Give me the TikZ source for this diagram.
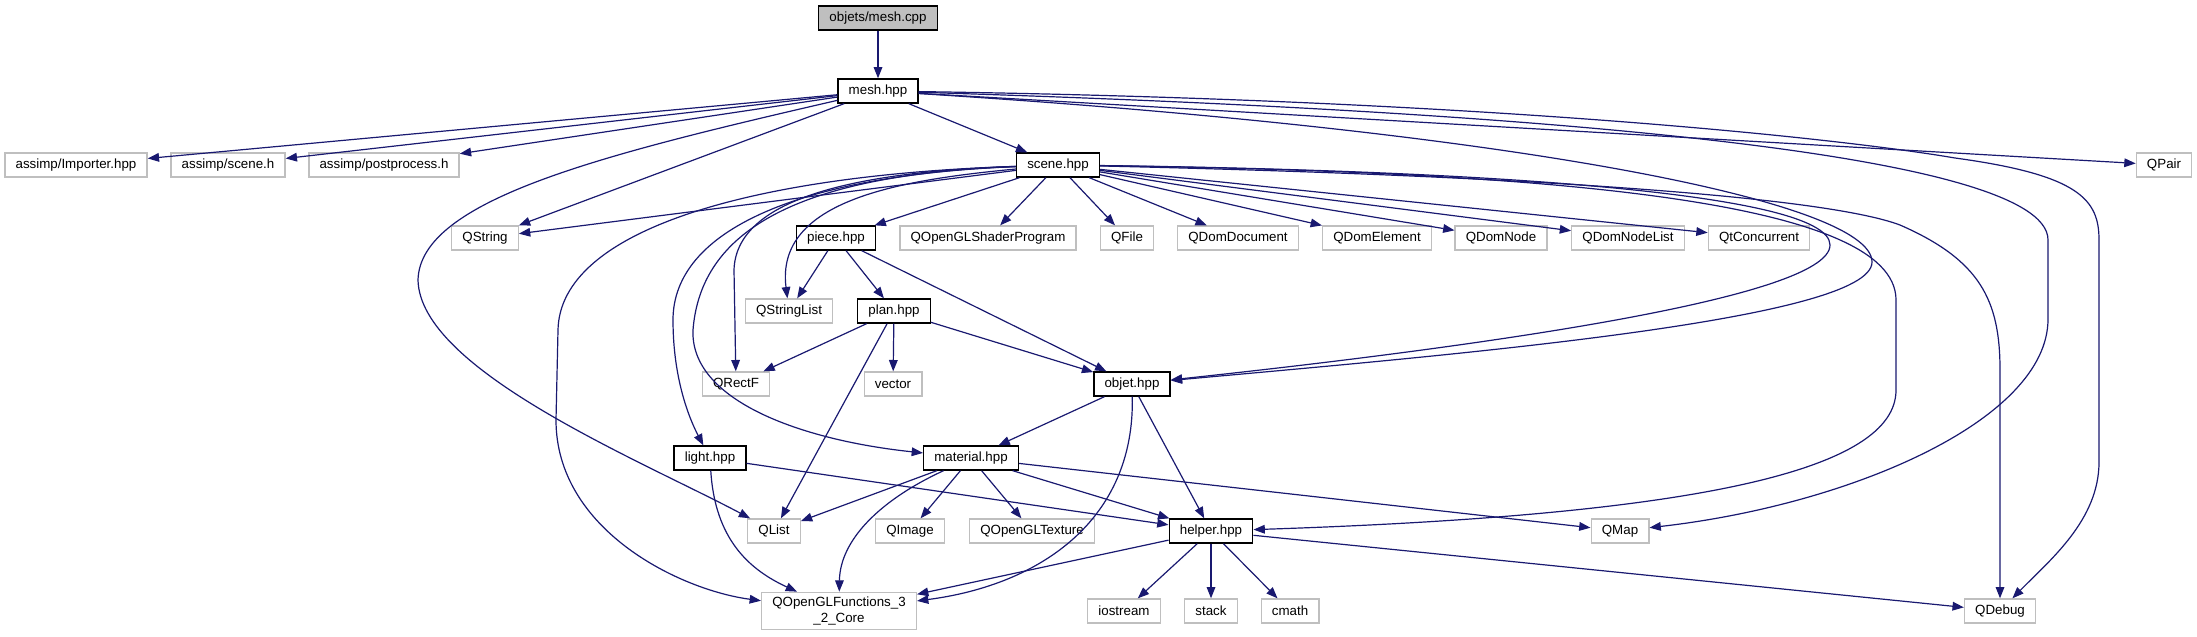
\documentclass[tikz,border=0pt]{standalone}
\usepackage{fontspec}
\setmainfont{Liberation Sans}
\usetikzlibrary{arrows.meta, positioning}
\definecolor{edgeblue}{RGB}{25,25,112}
\definecolor{grey75}{RGB}{191,191,191}

\begin{document}
\begin{tikzpicture}[x=0.75pt, y=-0.75pt,
  file/.style={draw=black, line width=1pt, inner xsep=8pt, inner ysep=0pt,
    minimum height=18pt, font=\fontsize{10}{12}\selectfont},
  ext/.style={file, draw=grey75},
  dep/.style={edgeblue, line width=0.9pt, -{Triangle[length=8.5pt,width=6.5pt]}}]
\useasboundingbox (0,0) rectangle (2197,636);

% Files of the project
\node[file, fill=grey75] (root) at (878,18) {objets/mesh.cpp};
\node[file] (mesh) at (878,91) {mesh.hpp};
\node[file] (scene) at (1058,165) {scene.hpp};
\node[file] (piece) at (836,238) {piece.hpp};
\node[file] (plan) at (894,311) {plan.hpp};
\node[file] (objet) at (1132,384) {objet.hpp};
\node[file] (light) at (710,458) {light.hpp};
\node[file] (material) at (971,458) {material.hpp};
\node[file] (helper) at (1211,531) {helper.hpp};

% External headers
\node[ext] (assimpImp) at (76,165) {assimp/Importer.hpp};
\node[ext] (assimpScn) at (228,165) {assimp/scene.h};
\node[ext] (assimpPost) at (384,165) {assimp/postprocess.h};
\node[ext] (qpair) at (2164,165) {QPair};
\node[ext] (qstring) at (485,238) {QString};
\node[ext] (shaderprog) at (988,238) {QOpenGLShaderProgram};
\node[ext] (qfile) at (1127,238) {QFile};
\node[ext] (domdoc) at (1238,238) {QDomDocument};
\node[ext] (domelem) at (1377,238) {QDomElement};
\node[ext] (domnode) at (1501,238) {QDomNode};
\node[ext] (domlist) at (1628,238) {QDomNodeList};
\node[ext] (qtconc) at (1759,238) {QtConcurrent};
\node[ext] (strlist) at (789,311) {QStringList};
\node[ext] (rectf) at (736,384) {QRectF};
\node[ext] (vector) at (893,384) {vector};
\node[ext] (qlist) at (774,531) {QList};
\node[ext] (qimage) at (910,531) {QImage};
\node[ext] (texture) at (1032,531) {QOpenGLTexture};
\node[ext] (qmap) at (1620,531) {QMap};
\node[ext, minimum height=28pt, align=center] (glfunc) at (839,611) {QOpenGLFunctions\_3\\\_2\_Core};
\node[ext] (iostream) at (1124,611) {iostream};
\node[ext] (stack) at (1211,611) {stack};
\node[ext] (cmath) at (1290,611) {cmath};
\node[ext] (qdebug) at (2000,611) {QDebug};

% mesh.cpp
\draw[dep] (root) -- (mesh);

% mesh.hpp
\draw[dep] (mesh) -- (assimpImp);
\draw[dep] (mesh) -- (assimpScn);
\draw[dep] (mesh) -- (assimpPost);
\draw[dep] (mesh) -- (scene);
\draw[dep] (mesh) -- (qstring);
\draw[dep] (mesh) -- (qpair);
\draw[dep] (mesh) .. controls (600,155) and (420,200) .. (418,280)
  .. controls (420,370) and (640,460) .. (qlist);
\draw[dep] (mesh) .. controls (1500,130) and (1872,200) .. (1872,262)
  .. controls (1872,320) and (1450,355) .. (objet);
\draw[dep] (mesh) .. controls (1500,110) and (2048,150) .. (2048,240) -- (2048,319)
  .. controls (2048,420) and (1850,505) .. (qmap);
\draw[dep] (mesh) .. controls (1500,100) and (1850,140) .. (1955,158)
  .. controls (2080,175) and (2099,200) .. (2099,240) -- (2099,462)
  .. controls (2099,520) and (2050,560) .. (qdebug);

% scene.hpp
\draw[dep] (scene) -- (qstring);
\draw[dep] (scene) -- (piece);
\draw[dep] (scene) -- (shaderprog);
\draw[dep] (scene) -- (qfile);
\draw[dep] (scene) -- (domdoc);
\draw[dep] (scene) -- (domelem);
\draw[dep] (scene) -- (domnode);
\draw[dep] (scene) -- (domlist);
\draw[dep] (scene) -- (qtconc);
\draw[dep] (scene) .. controls (900,180) and (775,200) .. (strlist);
\draw[dep] (scene) .. controls (850,172) and (736,200) .. (734,270) -- (rectf);
\draw[dep] (scene) .. controls (800,175) and (673,230) .. (673,320)
  .. controls (673,380) and (690,420) .. (light);
\draw[dep] (scene) .. controls (780,175) and (700,240) .. (693,330)
  .. controls (690,400) and (800,440) .. (material);
\draw[dep] (scene) .. controls (750,175) and (560,230) .. (558,330) -- (556,420)
  .. controls (556,530) and (680,590) .. (glfunc);
\draw[dep] (scene) .. controls (1450,170) and (1830,190) .. (1830,245)
  .. controls (1830,300) and (1450,350) .. (objet);
\draw[dep] (scene) .. controls (1550,172) and (1896,200) .. (1896,300) -- (1896,390)
  .. controls (1896,470) and (1700,515) .. (helper);
\draw[dep] (scene) .. controls (1500,175) and (1820,195) .. (1900,225)
  .. controls (1980,260) and (2000,300) .. (2000,370) -- (qdebug);

% piece.hpp and plan.hpp
\draw[dep] (piece) -- (strlist);
\draw[dep] (piece) -- (plan);
\draw[dep] (piece) -- (objet);
\draw[dep] (plan) -- (rectf);
\draw[dep] (plan) -- (vector);
\draw[dep] (plan) -- (objet);
\draw[dep] (plan) -- (qlist);

% objet.hpp
\draw[dep] (objet) -- (material);
\draw[dep] (objet) -- (helper);
\draw[dep] (objet) .. controls (1135,520) and (1040,585) .. (glfunc);

% light.hpp
\draw[dep] (light) -- (helper);
\draw[dep] (light) .. controls (715,540) and (750,570) .. (glfunc);

% material.hpp
\draw[dep] (material) -- (qlist);
\draw[dep] (material) -- (qimage);
\draw[dep] (material) -- (texture);
\draw[dep] (material) -- (helper);
\draw[dep] (material) -- (qmap);
\draw[dep] (material) .. controls (880,500) and (840,540) .. (glfunc);

% helper.hpp
\draw[dep] (helper) -- (glfunc);
\draw[dep] (helper) -- (iostream);
\draw[dep] (helper) -- (stack);
\draw[dep] (helper) -- (cmath);
\draw[dep] (helper) -- (qdebug);
\end{tikzpicture}
\end{document}
